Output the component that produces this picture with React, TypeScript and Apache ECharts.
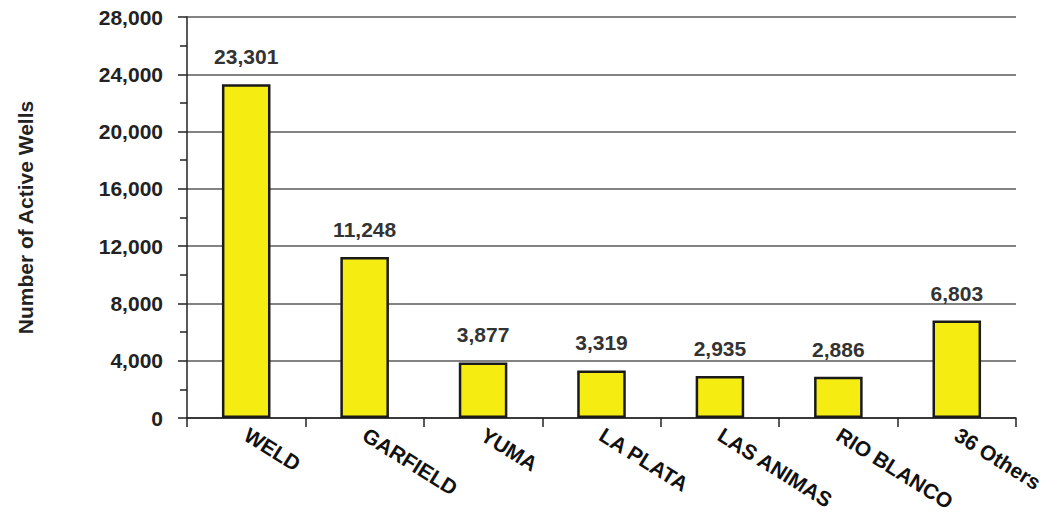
import React, { useEffect, useRef } from "react";
import * as echarts from "echarts";

const categories = ["WELD", "GARFIELD", "YUMA", "LA PLATA", "LAS ANIMAS", "RIO BLANCO", "36 Others"];
const wells = [23301, 11248, 3877, 3319, 2935, 2886, 6803];
const yMin = 0;
const yMax = 28000;
const yStep = 4000;
const yTitle = "Number of Active Wells";

export default function App() {
  const ref = useRef<HTMLDivElement>(null);
  useEffect(() => {
    if (!ref.current) return;
    const chart = echarts.init(ref.current, undefined, { renderer: "svg" });
    const font = "'Liberation Sans', Arial, sans-serif";
    chart.setOption({
      animation: false,
      backgroundColor: "#ffffff",
      grid: { left: 187, top: 17, right: 37, bottom: 94, containLabel: false, outerBoundsMode: "none" },
      xAxis: {
        type: "category",
        data: categories,
        axisLine: { show: true, lineStyle: { color: "#222", width: 1.5 } },
        axisTick: { show: true, alignWithLabel: false, length: 9, lineStyle: { color: "#222", width: 1.5 } },
        axisLabel: {
          interval: 0,
          rotate: -32,
          margin: 15,
          color: "#111",
          fontFamily: font,
          fontWeight: "bold",
          fontSize: 21,
        },
        splitLine: { show: false },
      },
      yAxis: {
        type: "value",
        min: yMin,
        max: yMax,
        interval: yStep,
        name: yTitle,
        nameLocation: "middle",
        nameRotate: 90,
        nameGap: 151,
        nameTextStyle: { color: "#222", fontFamily: font, fontWeight: "bold", fontSize: 21 },
        axisLine: { show: true, lineStyle: { color: "#222", width: 1.5 } },
        axisTick: { show: true, length: 9, lineStyle: { color: "#222", width: 1.5 } },
        minorTick: { show: true, splitNumber: 2, length: 7, lineStyle: { color: "#222", width: 1.5 } },
        axisLabel: {
          margin: 24,
          color: "#222",
          fontFamily: font,
          fontWeight: "bold",
          fontSize: 21,
          formatter: (v: number) => v.toLocaleString("en-US"),
        },
        splitLine: { show: true, lineStyle: { color: "#5a5a5a", width: 1.5 } },
      },
      series: [
        {
          type: "bar",
          data: wells,
          barWidth: "41%",
          itemStyle: { color: "#F5EC12", borderColor: "#1a1a1a", borderWidth: 2.5 },
          label: {
            show: true,
            position: "top",
            distance: 17,
            color: "#333",
            fontFamily: font,
            fontWeight: "bold",
            fontSize: 21,
            formatter: (p: any) => Number(p.value).toLocaleString("en-US"),
          },
        },
      ],
    });
    return () => chart.dispose();
  }, []);
  return <div ref={ref} style={{ width: 1053, height: 512, marginLeft: -8, marginTop: -8 }} />;
}
